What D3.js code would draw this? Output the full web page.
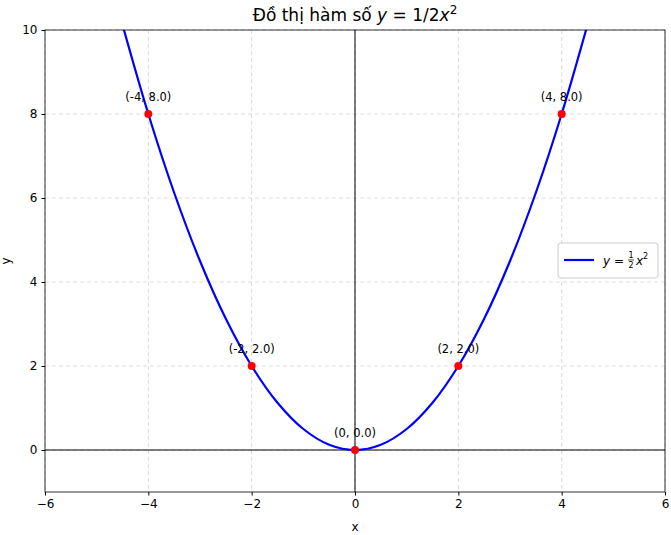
<!DOCTYPE html>
<html><head><meta charset="utf-8">
<script src="https://cdn.jsdelivr.net/npm/d3@7"></script>
<style>body{margin:0;background:#fff}text{font-family:"DejaVu Sans",sans-serif}</style>
</head><body>
<svg id="c" width="671" height="535"></svg>
<script>
const curveX = [-4.5,-4,-3.5,-3,-2.5,-2,-1.5,-1,-0.5,0,0.5,1,1.5,2,2.5,3,3.5,4,4.5];
const curveY = [10.125,8,6.125,4.5,3.125,2,1.125,0.5,0.125,0,0.125,0.5,1.125,2,3.125,4.5,6.125,8,10.125];
const ptX = [-4,-2,0,2,4];
const ptY = [8,2,0,2,8];
const xTicks = [-6,-4,-2,0,2,4,6];
const yTicks = [0,2,4,6,8,10];

const svg = d3.select("#c");
const L=45,R=665,T=30,B=492;
const x = d3.scaleLinear().domain([-6,6]).range([L,R]);
const y = d3.scaleLinear().domain([-1,10]).range([B,T]);

svg.append("defs").append("clipPath").attr("id","clip").append("rect")
  .attr("x",L).attr("y",T).attr("width",R-L).attr("height",B-T);

const g = svg.append("g");
g.selectAll(".gx").data(xTicks).join("line").attr("x1",d=>x(d)).attr("x2",d=>x(d)).attr("y1",T).attr("y2",B)
  .attr("stroke","#b0b0b0").attr("stroke-opacity",0.6).attr("stroke-dasharray","4,3").attr("stroke-width",0.8);
g.selectAll(".gy").data(yTicks).join("line").attr("y1",d=>y(d)).attr("y2",d=>y(d)).attr("x1",L).attr("x2",R)
  .attr("stroke","#b0b0b0").attr("stroke-opacity",0.6).attr("stroke-dasharray","4,3").attr("stroke-width",0.8);
g.append("line").attr("x1",L).attr("x2",R).attr("y1",y(0)).attr("y2",y(0)).attr("stroke","#000").attr("stroke-width",1);
g.append("line").attr("x1",x(0)).attr("x2",x(0)).attr("y1",T).attr("y2",B).attr("stroke","#000").attr("stroke-width",1);

const line = d3.line().x((d,i)=>x(curveX[i])).y(d=>y(d)).curve(d3.curveCatmullRom);
g.append("path").datum(curveY).attr("d",line).attr("fill","none").attr("stroke","#0000ff").attr("stroke-width",2.2).attr("clip-path","url(#clip)");

g.selectAll(".pt").data(ptX).join("circle").attr("cx",d=>x(d)).attr("cy",(d,i)=>y(ptY[i])).attr("r",4).attr("fill","#ff0000");
g.selectAll(".pl").data(ptX).join("text").attr("x",d=>x(d)).attr("y",(d,i)=>y(ptY[i])-13).attr("text-anchor","middle")
  .attr("font-size",11.5).text((d,i)=>`(${d}, ${ptY[i].toFixed(1)})`);

svg.append("rect").attr("x",L).attr("y",T).attr("width",R-L).attr("height",B-T).attr("fill","none").attr("stroke","#000").attr("stroke-width",0.8);

const xa = svg.append("g").attr("transform",`translate(0,${B})`).call(d3.axisBottom(x).tickValues(xTicks).tickSize(3.5).tickPadding(4).tickFormat(d=>d<0?"−"+(-d):d));
const ya = svg.append("g").attr("transform",`translate(${L},0)`).call(d3.axisLeft(y).tickValues(yTicks).tickSize(3.5).tickPadding(4).tickFormat(d=>d));
[xa,ya].forEach(a=>{a.select(".domain").remove();a.selectAll("text").attr("font-size",12).attr("fill","#000").style("font-family","DejaVu Sans");});

svg.append("text").attr("x",355).attr("y",531).attr("text-anchor","middle").attr("font-size",12).text("x");
svg.append("text").attr("transform","translate(10,261) rotate(-90)").attr("text-anchor","middle").attr("font-size",12).text("y");

const t = svg.append("text").attr("x",355).attr("y",21).attr("text-anchor","middle").attr("font-size",17);
t.append("tspan").text("Đồ thị hàm số ");
t.append("tspan").attr("font-style","italic").text("y");
t.append("tspan").text(" = 1/2");
t.append("tspan").attr("font-style","italic").text("x");
t.append("tspan").attr("font-size",12).attr("dy",-7).text("2");

const lg = svg.append("g");
lg.append("rect").attr("x",558).attr("y",243).attr("width",100).attr("height",35).attr("rx",3).attr("fill","#fff").attr("stroke","#ccc");
lg.append("line").attr("x1",564).attr("x2",594).attr("y1",260).attr("y2",260).attr("stroke","#0000ff").attr("stroke-width",2.2);
const lt = lg.append("text").attr("x",603).attr("y",265).attr("font-size",12);
lt.append("tspan").attr("font-style","italic").text("y");
lt.append("tspan").text(" = ");
lg.append("text").attr("x",631).attr("y",258).attr("font-size",8).attr("text-anchor","middle").text("1");
lg.append("line").attr("x1",628).attr("x2",634).attr("y1",260).attr("y2",260).attr("stroke","#000").attr("stroke-width",0.7);
lg.append("text").attr("x",631).attr("y",268).attr("font-size",8).attr("text-anchor","middle").text("2");
const lt2 = lg.append("text").attr("x",636).attr("y",265).attr("font-size",12);
lt2.append("tspan").attr("font-style","italic").text("x");
lt2.append("tspan").attr("font-size",8).attr("dy",-6).text("2");
</script></body></html>
